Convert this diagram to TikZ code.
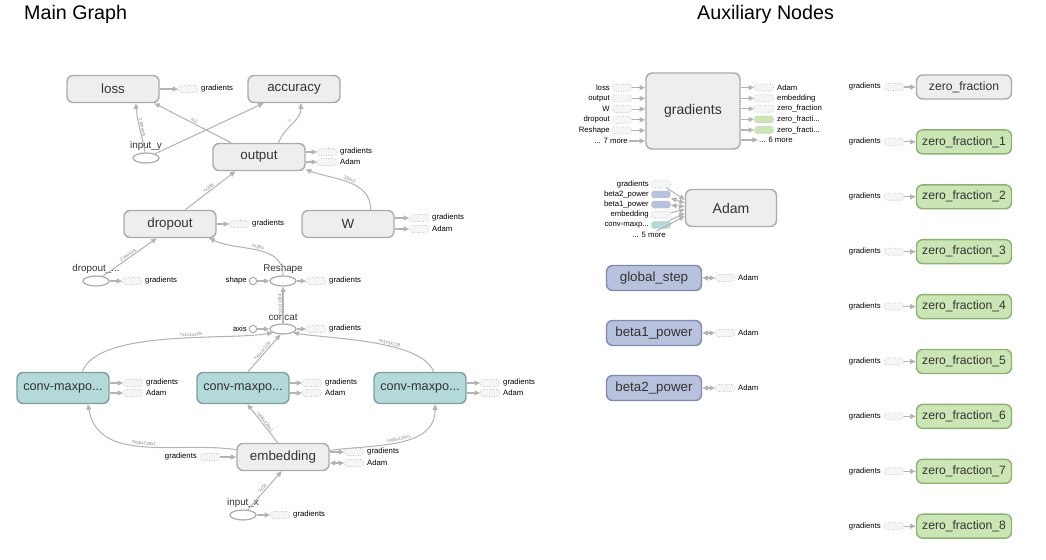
\documentclass[tikz,border=0pt]{standalone}
\usepackage{fontspec}
\setmainfont{Liberation Sans}
\usetikzlibrary{arrows.meta,shapes.geometric}
\definecolor{opgray}{HTML}{EEEEEE}
\definecolor{opline}{HTML}{ABABAB}
\definecolor{convfill}{HTML}{B4D9D9}
\definecolor{convline}{HTML}{7E9E9E}
\definecolor{varfill}{HTML}{B8C2DD}
\definecolor{varline}{HTML}{7F8AAE}
\definecolor{zerofill}{HTML}{CCE5B5}
\definecolor{zeroline}{HTML}{8DB173}
\definecolor{edgegray}{HTML}{B4B4B4}
\begin{document}
\begin{tikzpicture}[x=0.02cm,y=-0.02cm,>={Triangle[length=3.2pt,width=2.8pt]},
    every node/.style={text=black!80},
    op/.style={draw=opline,fill=opgray,line width=0.8pt,rounded corners=3.5pt,minimum width=1.84cm,minimum height=0.54cm,inner sep=0pt,font=\fontsize{7.6}{9}\selectfont},
    conv/.style={op,fill=convfill,draw=convline,minimum height=0.62cm,font=\fontsize{7.2}{8}\selectfont},
    var/.style={op,fill=varfill,draw=varline,minimum width=1.9cm,minimum height=0.5cm},
    zero/.style={op,fill=zerofill,draw=zeroline,minimum width=1.9cm,minimum height=0.48cm,font=\fontsize{6.9}{8}\selectfont},
    tensor/.style={ellipse,draw=opline,line width=0.7pt,fill=white,minimum width=0.52cm,minimum height=0.2cm,inner sep=0pt},
    const/.style={circle,draw=opline,line width=0.6pt,fill=white,minimum size=0.15cm,inner sep=0pt},
    stub/.style={draw=opline!80,densely dotted,fill=gray!8,rounded corners=1.5pt,minimum width=0.38cm,minimum height=0.14cm,inner sep=0pt},
    tname/.style={font=\fontsize{5.6}{6}\selectfont,inner sep=0.5pt},
    stubtext/.style={font=\fontsize{4.4}{5}\selectfont,inner sep=0.5pt,text=black},
    flow/.style={draw=edgegray,line width=0.6pt,->},
    elab/.style={sloped,above,font=\fontsize{2.6}{3}\selectfont,text=gray,inner sep=0.4pt}]
  \useasboundingbox (0,0) rectangle (1046,560);

  \node[anchor=west,font=\fontsize{11.2}{13}\selectfont,text=black] (tmain) at (18,14) {Main Graph};
  \node[anchor=west,font=\fontsize{11.2}{13}\selectfont,text=black] (taux) at (691,14) {Auxiliary Nodes};

  % main graph
  \node[op] (loss) at (113,89) {loss};
  \node[op] (accuracy) at (294,89) {accuracy};
  \node[op] (output) at (259,157) {output};
  \node[op] (dropout) at (170,224) {dropout};
  \node[op] (W) at (348,224) {W};
  \node[tensor] (inputy) at (146,158) {};
  \node[tname] (inputyl) at (146,146) {input\_y};
  \node[tensor] (keep) at (96,281) {};
  \node[tname] (keepl) at (96,269) {dropout\_...};
  \node[tensor] (reshape) at (283,281) {};
  \node[tname] (reshapel) at (283,269) {Reshape};
  \node[const] (shape) at (253,281) {};
  \node[stubtext,anchor=east] (shapel) at (248,281) {shape};
  \node[tensor] (concat) at (283,329) {};
  \node[tname] (concatl) at (283,317) {concat};
  \node[const] (axis) at (253,329) {};
  \node[stubtext,anchor=east] (axisl) at (248,329) {axis};
  \node[conv] (conv1) at (63,388) {conv-maxpo...};
  \node[conv] (conv2) at (243,388) {conv-maxpo...};
  \node[conv] (conv3) at (420,388) {conv-maxpo...};
  \node[op] (embedding) at (283,457) {embedding};
  \node[tensor] (inputx) at (243,515) {};
  \node[tname] (inputxl) at (243,503) {input\_x};

  \foreach \n/\x/\y/\t in {lossg/188/89/gradients, outg/327/152/gradients, outa/327/162/Adam,
      dropg/239/224/gradients, Wg/419/218/gradients, Wa/419/229/Adam, keepg/132/281/gradients,
      reshapeg/316/281/gradients, concatg/316/329/gradients, c1g/133/383/gradients, c1a/133/393/Adam,
      c2g/312/383/gradients, c2a/312/393/Adam, c3g/490/383/gradients, c3a/490/393/Adam,
      embg/354/452/gradients, emba/354/463/Adam, inputxg/280/515/gradients} {
    \node[stub] (\n) at (\x,\y) {};
    \node[stubtext,anchor=west] (\n-t) at (\x+12,\y) {\t};
  }
  \node[stub] (embin) at (210,457) {};
  \node[stubtext,anchor=east] (embin-t) at (198,457) {gradients};

  \draw[flow] (loss) -- (lossg);
  \draw[flow] (output.east |- outg) -- (outg);
  \draw[flow] (output.east |- outa) -- (outa);
  \draw[flow] (dropout) -- (dropg);
  \draw[flow] (W.east |- Wg) -- (Wg);
  \draw[flow] (W.east |- Wa) -- (Wa);
  \draw[flow] (keep) -- (keepg);
  \draw[flow] (reshape) -- (reshapeg);
  \draw[flow] (concat) -- (concatg);
  \draw[flow] (conv1.east |- c1g) -- (c1g);
  \draw[flow] (conv1.east |- c1a) -- (c1a);
  \draw[flow] (conv2.east |- c2g) -- (c2g);
  \draw[flow] (conv2.east |- c2a) -- (c2a);
  \draw[flow] (conv3.east |- c3g) -- (c3g);
  \draw[flow] (conv3.east |- c3a) -- (c3a);
  \draw[flow] (embedding.east |- embg) -- (embg);
  \draw[flow,<->] (embedding.east |- emba) -- (emba);
  \draw[flow] (embin) -- (embedding);
  \draw[flow] (inputx) -- (inputxg);

  \draw[flow] (inputy) to[out=100,in=-85] node[elab] {2 tensors} (loss.-32);
  \draw[flow] (inputy) -- (accuracy.-155);
  \draw[flow] (output.153) -- node[elab] {?x2} (loss.-19);
  \draw[flow] (output.36) to[out=70,in=-90] node[elab] {?} (accuracy.-64);
  \draw[flow] (dropout.43) -- node[elab] {?x384} (output.-149);
  \draw[flow] (W.32) to[out=90,in=-20] node[elab] {384x2} (output.-15);
  \draw[flow] (keep) -- node[elab] {2 tensors} (dropout.-133);
  \draw[flow] (reshape) to[out=90,in=-25] node[elab] {?x384} (dropout.-20);
  \draw[flow] (shape) -- (reshape);
  \draw[flow] (concat) -- node[elab] {?x1x1x384} (reshape);
  \draw[flow] (axis) -- (concat);
  \draw[flow] (conv1.40) to[out=70,in=190,looseness=0.6] node[elab,pos=0.6] {?x1x1x128} (concat.-160);
  \draw[flow] (conv2.73) -- node[elab] {?x1x1x128} (concat.-115);
  \draw[flow] (conv3.50) to[out=110,in=-10,looseness=0.6] node[elab,pos=0.4] {?x1x1x128} (concat.-20);
  \draw[flow] (embedding.171) to[out=172,in=-80] node[elab] {?x56x128x1} (conv1.-33);
  \draw[flow] (embedding.110) -- node[elab] {?x56x128x1} (conv2.-75);
  \draw[flow] (embedding.8) to[out=8,in=-90] node[elab] {?x56x128x1} (conv3.-47);
  \draw[flow] (inputx) -- node[elab] {?x56} (embedding.-95);

  % auxiliary nodes
  \node[op,minimum width=1.88cm,minimum height=1.52cm,font=\fontsize{8}{9}\selectfont] (gradients) at (693,111) {gradients};
  \foreach \t [count=\i] in {loss,output,W,dropout,Reshape} {
    \node[stub] (gin\i) at (622,77+10.7*\i) {};
    \node[stubtext,anchor=east] (gin\i-t) at (611,77+10.7*\i) {\t};
    \draw[flow] (gin\i) -- (gradients.west |- gin\i);
  }
  \node[stubtext,anchor=east] (gmore) at (629,141) {... 7 more};
  \draw[flow] (gmore) -- (gradients.west |- gmore);
  \foreach \t/\c [count=\i] in {Adam/gray!8,embedding/gray!8,zero\_fraction/gray!8,{zero\_fracti...}/zerofill,{zero\_fracti...}/zerofill} {
    \node[stub,fill=\c] (gout\i) at (764,77+10.6*\i) {};
    \node[stubtext,anchor=west] (gout\i-t) at (776,77+10.6*\i) {\t};
    \draw[flow] (gradients.east |- gout\i) -- (gout\i);
  }
  \node[stubtext,anchor=west] (gomore) at (758,140) {... 6 more};
  \draw[flow] (gradients.east |- gomore) -- (gomore);

  \node[op,minimum width=1.82cm,minimum height=0.74cm,font=\fontsize{8}{9}\selectfont] (adam) at (731,208) {Adam};
  \foreach \t/\c [count=\i] in {gradients/gray!8,beta2\_power/varfill,beta1\_power/varfill,embedding/gray!8,{conv-maxp...}/convfill} {
    \node[stub,fill=\c] (ain\i) at (661,174+10.2*\i) {};
    \node[stubtext,anchor=east] (ain\i-t) at (650,174+10.2*\i) {\t};
  }
  \node[stubtext,anchor=east] (amore) at (667,235) {... 5 more};
  \draw[flow] (ain1) -- (adam.170);
  \draw[flow,<->] (ain2) -- (adam.174);
  \draw[flow,<->] (ain3) -- (adam.178);
  \draw[flow] (ain4) -- (adam.182);
  \draw[flow] (ain5) -- (adam.186);
  \draw[flow] (amore) -- (adam.190);

  \foreach \t/\y [count=\i] in {global\_step/278,beta1\_power/333,beta2\_power/388} {
    \node[var] (v\i) at (654,\y) {\t};
    \node[stub] (v\i-s) at (725,\y) {};
    \node[stubtext,anchor=west] (v\i-t) at (737,\y) {Adam};
    \draw[flow,<->] (v\i) -- (v\i-s);
  }

  \node[zero,fill=opgray,draw=opline] (z0) at (964,87) {zero\_fraction};
  \foreach \i in {1,2,3,4,5,6,7,8}
    \node[zero] (z\i) at (964,87+54.9*\i) {zero\_fraction\_\i};
  \foreach \i in {0,1,2,3,4,5,6,7,8} {
    \node[stub] (z\i-s) at (894,87+54.9*\i) {};
    \node[stubtext,anchor=east] (z\i-t) at (882,87+54.9*\i) {gradients};
    \draw[flow] (z\i-s) -- (z\i);
  }
\end{tikzpicture}
\end{document}
